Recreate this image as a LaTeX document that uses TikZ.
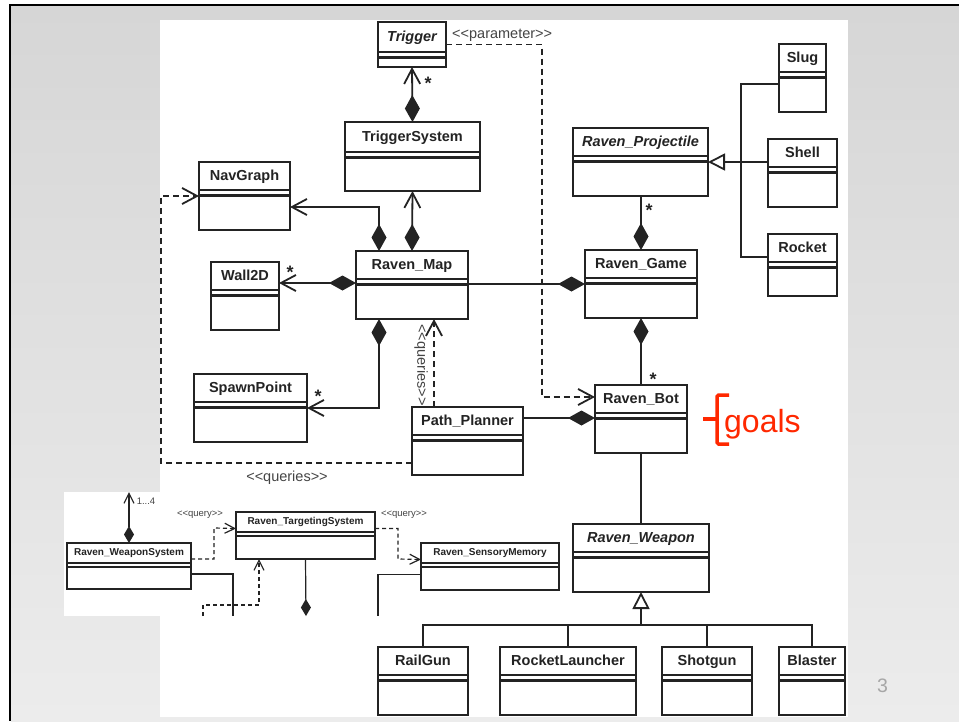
\documentclass[tikz,border=0pt]{standalone}
\usepackage{fontspec}
\setmainfont{Liberation Sans}
\usepackage{xcolor}
\definecolor{slideTop}{RGB}{214,214,214}
\definecolor{slideBottom}{RGB}{236,236,236}
\definecolor{goalsRed}{RGB}{255,40,0}
\definecolor{umlInk}{RGB}{35,35,35}
\usepackage{tikz}
\usetikzlibrary{arrows.meta, positioning, calc}
\tikzset{
  classbox/.style={draw=umlInk, fill=white, line width=2.8pt, inner sep=0pt, outer sep=0pt},
  classsep/.style={draw=umlInk, line width=2.2pt},
  classtitle/.style={font=\bfseries\fontsize{14.5}{16}\selectfont, text=umlInk, inner sep=0pt, text height=11pt, text depth=3pt},
  conn/.style={draw=umlInk, line width=1.8pt},
  compose/.style={conn, {Diamond[length=27pt,width=15pt]}-{Straight Barb[length=15pt,width=16pt]}},
  composeonly/.style={conn, {Diamond[length=27pt,width=15pt]}-},
  depend/.style={conn, dash pattern=on 6pt off 4pt, -{Straight Barb[length=15pt,width=16pt]}},
  inherit/.style={conn, {Triangle[open, length=17pt, width=17pt, fill=white]}-},
  stereo/.style={font=\fontsize{14.5}{16}\selectfont, text=umlInk!85, inner sep=0pt},
  mult/.style={font=\bfseries\fontsize{18}{18}\selectfont, text=umlInk, inner sep=0pt},
}

\begin{document}
\begin{tikzpicture}[x=1pt, y=-1pt]
        \useasboundingbox (0,0) rectangle (959,721);
        % Define class box sizes
        \def\titleh{28}
        \def\sepgap{5.5}

        % Function to draw a class box with its title and compartments
        \newcommand{\umlclass}[6]{
            \node[classbox, minimum width={(#4-#2)*1pt}, minimum height={(#5-#3)*1pt}] (#1) at ({(#2+#4)/2},{(#3+#5)/2}) {};
            \draw[classsep] (#2,#3+\titleh) -- (#4,#3+\titleh);
            \draw[classsep] (#2,#3+\titleh+\sepgap) -- (#4,#3+\titleh+\sepgap);
            \node[classtitle] (#1-title) at ({(#2+#4)/2},{#3+\titleh/2}) {#6};
            }

  % === Slide background ===
  \fill[white] (0,0) rectangle (959,721);
  \shade[top color=slideTop, bottom color=slideBottom] (11,6) rectangle (959,721);
  \fill[black] (9,4) rectangle (959,6);
  \fill[black] (9,4) rectangle (11,721);
  \fill[white] (160,20) rectangle (848,717);

  % === Classes ===
  \def\titleh{30}
  \umlclass{Trigger}{378}{22}{446}{67}{\itshape Trigger}
  \umlclass{TriggerSystem}{345}{122}{480}{191}{TriggerSystem}
  \def\titleh{28}
  \umlclass{NavGraph}{199}{162}{290}{230}{NavGraph}
  \umlclass{RavenMap}{356}{251}{468}{319}{Raven\_Map}
  \umlclass{Wall2D}{211}{262}{279}{330}{Wall2D}
  \umlclass{SpawnPoint}{194}{374}{307}{442}{SpawnPoint}
  \umlclass{PathPlanner}{412}{407}{523}{475}{Path\_Planner}
  \umlclass{RavenProjectile}{573}{128}{708}{196}{\itshape Raven\_Projectile}
  \umlclass{Slug}{779}{44}{826}{112}{Slug}
  \umlclass{Shell}{768}{139}{837}{207}{Shell}
  \umlclass{Rocket}{768}{234}{837}{296}{Rocket}
  \umlclass{RavenGame}{585}{250}{697}{318}{Raven\_Game}
  \umlclass{RavenBot}{595}{385}{687}{453}{Raven\_Bot}
  \umlclass{RavenWeapon}{573}{524}{709}{592}{\itshape Raven\_Weapon}
  \umlclass{RailGun}{378}{647}{468}{715}{RailGun}
  \umlclass{RocketLauncher}{500}{647}{636}{715}{RocketLauncher}
  \umlclass{Shotgun}{662}{647}{752}{715}{Shotgun}
  \umlclass{Blaster}{779}{647}{845}{715}{Blaster}

  % === Compositions ===
  \draw[compose] (TriggerSystem.north) -- (Trigger.south);
  \draw[compose] (RavenMap.north) -- (TriggerSystem.south);
  \draw[compose] ([xshift=23pt]RavenMap.north west) |- ([yshift=-11pt]NavGraph.east);
  \draw[compose] ([yshift=2pt]RavenMap.west) -- ([yshift=2pt]RavenMap.west -| Wall2D.east);
  \draw[compose] ([xshift=23pt]RavenMap.south west) |- (SpawnPoint.east);
  \draw[composeonly] (RavenGame.west) -- (RavenGame.west -| RavenMap.east);
  \draw[composeonly] (RavenGame.north) -- (RavenGame.north |- RavenProjectile.south);
  \draw[composeonly] (RavenGame.south) -- (RavenGame.south |- RavenBot.north);
  \draw[composeonly] ([yshift=1pt]RavenBot.west) -- ([yshift=1pt]RavenBot.west -| PathPlanner.east);
  \draw[conn] (RavenBot.south) -- (RavenWeapon.north);

  % multiplicities
  \node[mult] (mTrigger) at (428,83) {*};
  \node[mult] (mWall) at (290,272) {*};
  \node[mult] (mSpawn) at (318,396) {*};
  \node[mult] (mProj) at (649,210) {*};
  \node[mult] (mBot) at (653,379) {*};

  % === Dependencies ===
  \coordinate (paramTurn) at (542,397);
  \draw[depend] (Trigger.east) -| (paramTurn) -- ([yshift=22pt]RavenBot.west);
  \node[stereo, anchor=base west] (paramLabel) at (452,38) {<{}<parameter>{}>};

  \draw[depend] ([xshift=22pt]PathPlanner.north west) -- ([xshift=22pt]PathPlanner.north west |- RavenMap.south);
  \node[stereo, rotate=-90] (queriesMap) at (421,365) {<{}<queries>{}>};

  \coordinate (queryTurn) at (161,463);
  \draw[depend] ([yshift=12pt]PathPlanner.south west) -- (queryTurn) |- (NavGraph.west);
  \node[stereo] (queriesNav) at (287,478) {<{}<queries>{}>};

  % === Generalizations ===
  \coordinate (projFork) at (741,162);
  \draw[inherit] (RavenProjectile.east) -- (RavenProjectile.east -| Shell.west);
  \draw[conn] ([yshift=-6pt]Slug.west) -| (projFork) |- ([yshift=8pt]Rocket.west);

  \coordinate (weaponFork) at (641,625);
  \draw[inherit] (RavenWeapon.south) -- (weaponFork);
  \foreach \w in {RailGun, RocketLauncher, Shotgun, Blaster} {\draw[conn] (weaponFork) -| (\w.north);}

  % === Goals annotation ===
  \draw[goalsRed, line width=3.5pt, rounded corners=1.5pt] (729,395) -- (717,395) -- (717,444) -- (729,444);
  \draw[goalsRed, line width=3.5pt] (703,419) -- (717,419);
  \node[font=\fontsize{32}{34}\selectfont, text=goalsRed, inner sep=0pt, anchor=base west] (goals) at (724,432) {goals};

  % === Page number ===
  \node[font=\fontsize{19.5}{20}\selectfont, text=black!35, inner sep=0pt, anchor=base west] (pageNum) at (877,692) {3};

  % === Inset (weapon system excerpt) ===
  \begin{scope}[classbox/.append style={line width=1.9pt}, classsep/.append style={line width=1.4pt},
      classtitle/.append style={font=\bfseries\fontsize{10}{11}\selectfont, text height=7.5pt, text depth=2pt},
      conn/.append style={line width=1.2pt},
      compose/.style={conn, {Diamond[length=17pt,width=10pt]}-{Straight Barb[length=10pt,width=10pt]}},
      depend/.style={conn, dash pattern=on 4pt off 3pt, -{Straight Barb[length=10pt,width=10pt]}},
      stereo/.append style={font=\fontsize{9.5}{10}\selectfont}]
    \def\titleh{20}
    \def\sepgap{4}
    \fill[white] (64,492) rectangle (566,616);

    \umlclass{RavenWeaponSystem}{67}{543}{191}{589}{Raven\_WeaponSystem}
    \umlclass{RavenTargetingSystem}{236}{512}{375}{559}{Raven\_TargetingSystem}
    \umlclass{RavenSensoryMemory}{421}{543}{559}{590}{Raven\_SensoryMemory}

    \coordinate (wsTop) at (129,492);
    \draw[compose] (RavenWeaponSystem.north) -- (wsTop);
    \node[stereo] (wsMult) at (146,501) {1...4};

    \coordinate (queryLeft) at (214,528);
    \draw[depend] ([yshift=7pt]RavenWeaponSystem.east) -| (queryLeft) -- ([yshift=7pt]RavenTargetingSystem.west);
    \node[stereo] (queryLeftLabel) at (200,515) {<{}<query>{}>};

    \coordinate (queryRight) at (398,559);
    \draw[depend] ([yshift=7pt]RavenTargetingSystem.east) -| (queryRight) -- ([yshift=7pt]RavenSensoryMemory.west);
    \node[stereo] (queryRightLabel) at (404,515) {<{}<query>{}>};

    % lines cut by the inset edge
    \coordinate (cutA) at (233,616);
    \coordinate (cutB) at (378,616);
    \coordinate (cutC) at (203,616);
    \coordinate (cutD) at (306,616);
    \coordinate (tsJoin) at (259,605);
    \draw[conn] ([yshift=-8pt]RavenWeaponSystem.east) -| (cutA);
    \draw[conn] ([yshift=-8pt]RavenSensoryMemory.west) -| (cutB);
    \draw[depend] (cutC) |- (tsJoin) -- (tsJoin |- RavenTargetingSystem.south);
    \draw[conn, -{Diamond[length=17pt,width=10pt]}] (RavenTargetingSystem.south) -- (cutD);
  \end{scope}

        \end{tikzpicture}
\end{document}
